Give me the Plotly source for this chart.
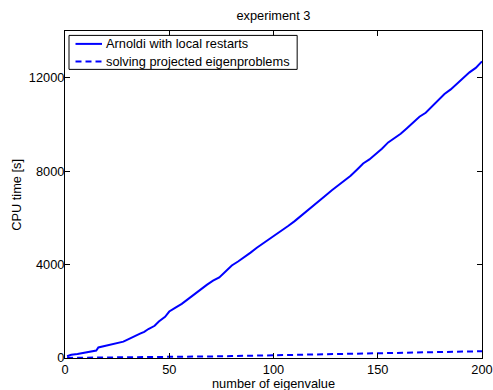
import plotly.graph_objects as go

# Solid line: Arnoldi with local restarts
arnoldi_x = [1, 3, 6, 10, 14, 15, 16, 18, 20, 23, 26, 28, 30, 33, 36, 38, 40, 43, 45, 48,
             50, 53, 56, 59, 62, 65, 68, 71, 74, 77, 80, 83, 86, 89, 92, 95, 98, 101, 104,
             107, 110, 113, 116, 119, 122, 125, 128, 131, 134, 137, 140, 143, 146, 149,
             152, 155, 158, 161, 164, 167, 170, 173, 176, 179, 182, 185, 188, 191, 194,
             197, 200]
arnoldi_y = [75, 140, 175, 230, 290, 320, 450, 490, 540, 610, 680, 700, 790, 900, 1040, 1120,
             1240, 1380, 1560, 1760, 1990, 2160, 2320, 2520, 2730, 2910, 3130, 3310, 3450,
             3700, 3960, 4130, 4310, 4510, 4720, 4900, 5080, 5280, 5440, 5650, 5850, 6080,
             6310, 6520, 6760, 6960, 7180, 7380, 7580, 7800, 8060, 8330, 8500, 8710, 8960,
             9230, 9420, 9600, 9840, 10100, 10330, 10500, 10760, 11040, 11300, 11500, 11740,
             11970, 12230, 12420, 12700]

# Dashed line: solving projected eigenproblems
proj_x = [1, 10, 20, 30, 40, 50, 60, 70, 80, 90, 100, 110, 120, 130, 140, 150, 160, 170,
          180, 190, 200]
proj_y = [5, 10, 15, 22, 32, 43, 55, 68, 82, 98, 115, 130, 145, 160, 175, 190, 210, 230,
          250, 270, 290]

series_names = ["Arnoldi with local restarts", "solving projected eigenproblems"]
series_dash = ["solid", "6px,4px"]

x_ticks = [0, 50, 100, 150, 200]
y_ticks = [0, 4000, 8000, 12000]

FONT = "Liberation Sans, Arial, Helvetica, sans-serif"
FS = 12.8
BLUE = "#0000ff"

fig = go.Figure()
fig.add_trace(go.Scatter(x=arnoldi_x, y=arnoldi_y, mode="lines", name=series_names[0],
                         showlegend=False, hoverinfo="skip",
                         line=dict(color=BLUE, width=2, dash=series_dash[0])))
fig.add_trace(go.Scatter(x=proj_x, y=proj_y, mode="lines", name=series_names[1],
                         showlegend=False, hoverinfo="skip",
                         line=dict(color=BLUE, width=2, dash=series_dash[1])))

axis_common = dict(showline=True, linecolor="black", linewidth=1, mirror="ticks",
                   ticks="inside", ticklen=5, tickcolor="black", tickwidth=1,
                   showgrid=False, zeroline=False, automargin=False,
                   tickfont=dict(family=FONT, size=FS, color="black"))

fig.update_xaxes(range=[0, 200], tickvals=x_ticks, ticktext=[str(v) for v in x_ticks],
                 ticklabelstandoff=0, **axis_common)
fig.update_yaxes(range=[0, 14000], tickvals=y_ticks, ticktext=[str(v) for v in y_ticks],
                 ticklabelstandoff=-3, **axis_common)

# Layout geometry (pixels) for legend box in MATLAB style
L, R, T, B = 65, 481.7, 30.6, 357.7
W, H = R - L, B - T
def px(v):
    return (v - L) / W
def py(v):
    return (B - v) / H

shapes = [dict(type="rect", xref="paper", yref="paper",
               x0=px(69), x1=px(297), y0=py(69), y1=py(35),
               line=dict(color="black", width=1), fillcolor="white", layer="above")]
annotations = []
row_y = [43.5, 61]
for name, dash, ry in zip(series_names, series_dash, row_y):
    shapes.append(dict(type="line", xref="paper", yref="paper",
                       x0=px(75.5), x1=px(102), y0=py(ry), y1=py(ry),
                       line=dict(color=BLUE, width=2, dash=dash), layer="above"))
    annotations.append(dict(text=name, xref="paper", yref="paper", x=px(105), y=py(ry),
                            xanchor="left", yanchor="middle", showarrow=False,
                            borderpad=0,
                            font=dict(family=FONT, size=FS, color="black")))

annotations.append(dict(text="number of eigenvalue", xref="paper", yref="paper",
                        x=0.5, y=py(383.3), xanchor="center", yanchor="middle",
                        showarrow=False, borderpad=0,
                        font=dict(family=FONT, size=FS, color="black")))
annotations.append(dict(text="CPU time [s]", xref="paper", yref="paper",
                        x=px(16.3), y=0.5, xanchor="center", yanchor="middle",
                        textangle=-90, showarrow=False, borderpad=0,
                        font=dict(family=FONT, size=FS, color="black")))

fig.update_layout(
    width=493, height=390,
    margin=dict(l=65, r=11, t=31, b=32, autoexpand=False),
    paper_bgcolor="white", plot_bgcolor="white",
    font=dict(family=FONT, size=FS, color="black"),
    title=dict(text="experiment 3", x=0.5547, xanchor="center", y=1 - 16 / 390,
               yanchor="middle", font=dict(family=FONT, size=FS, color="black")),
    shapes=shapes,
    annotations=annotations,
    showlegend=False,
    hovermode=False,
)

fig.write_html("out.html", config={"displayModeBar": False},
               post_script="document.body.style.margin='0px';")
